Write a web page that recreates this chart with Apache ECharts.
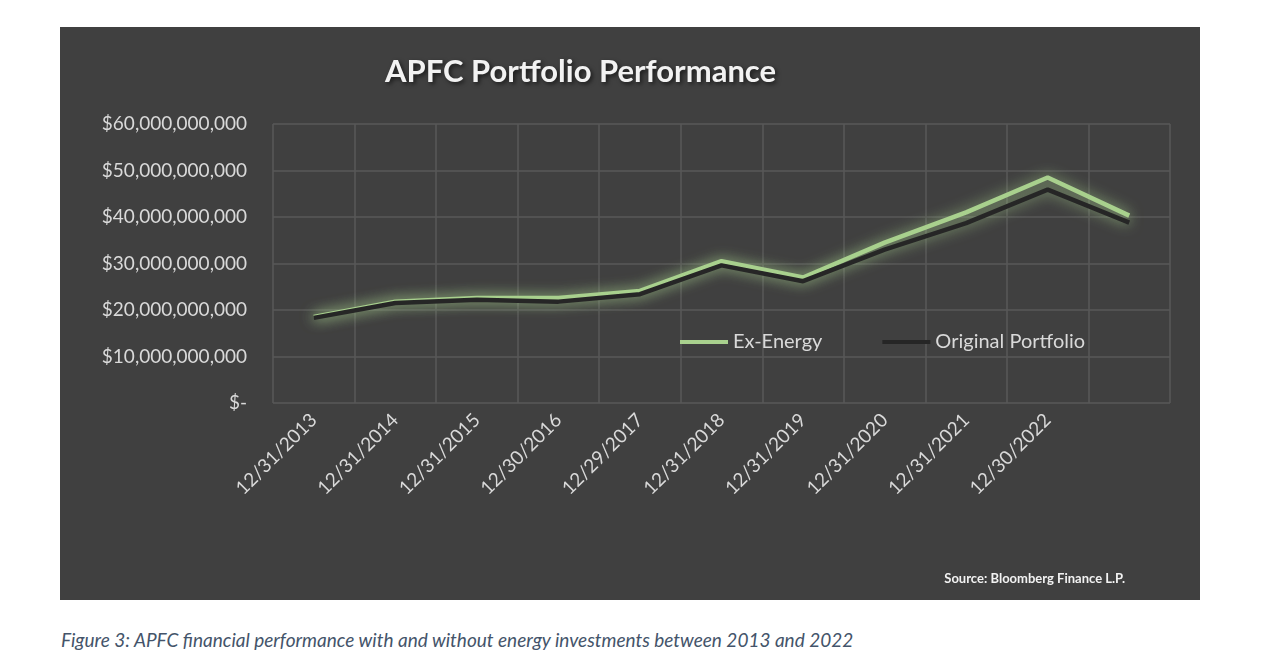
<!DOCTYPE html>
<html>
<head>
<meta charset="utf-8">
<script src="https://cdn.jsdelivr.net/npm/echarts@6/dist/echarts.min.js"></script>
<style>
  body { margin: 0; background: #fff; width: 1266px; height: 670px; position: relative; font-family: Lato, "Open Sans", sans-serif; }
  #chart { position: absolute; left: 60px; top: 27px; width: 1140px; height: 573px; }
  #caption { position: absolute; left: 61px; top: 628px; font-style: italic; font-size: 19px; color: #44546a; }
</style>
</head>
<body>
<div id="chart"></div>
<div id="caption">Figure 3: APFC financial performance with and without energy investments between 2013 and 2022</div>
<script>
// category labels (last point has no label)
const categories = ['12/31/2013', '12/31/2014', '12/31/2015', '12/30/2016', '12/29/2017',
  '12/31/2018', '12/31/2019', '12/31/2020', '12/31/2021', '12/30/2022', ''];
// values in billions of dollars
const exEnergy = [18.5, 21.8, 22.6, 22.6, 24.1, 30.5, 27.0, 34.5, 41.0, 48.5, 40.3];
const original = [18.3, 21.5, 22.2, 21.8, 23.4, 29.6, 26.2, 33.0, 38.7, 45.9, 38.8];

const chart = echarts.init(document.getElementById('chart'));

function dollars(v) {
  if (v === 0) return '$-';
  return '$' + (v * 1e9).toLocaleString('en-US');
}

const glow = {
  shadowColor: 'rgba(169,209,142,0.8)',
  shadowBlur: 14
};

chart.setOption({
  backgroundColor: '#404040',
  animation: false,
  title: {
    text: 'APFC Portfolio Performance',
    left: 320,
    top: 24,
    textStyle: {
      color: '#f2f2f2', fontSize: 31, fontWeight: 'bold', fontFamily: 'Lato',
      textShadowColor: 'rgba(0,0,0,0.6)', textShadowBlur: 4, textShadowOffsetX: 2, textShadowOffsetY: 2
    }
  },
  legend: {
    left: 615,
    top: 300,
    itemWidth: 48,
    itemGap: 60,
    icon: 'rect',
    itemHeight: 4,
    textStyle: { color: '#d9d9d9', fontSize: 20, fontFamily: 'Lato' },
    data: ['Ex-Energy', 'Original Portfolio']
  },
  grid: { left: 213, top: 97, right: 30, bottom: 197 },
  xAxis: {
    type: 'category',
    data: categories,
    boundaryGap: true,
    axisLine: { show: false },
    axisTick: { show: false },
    splitLine: { show: true, interval: 0, lineStyle: { color: '#595959', width: 1.5 } },
    axisLabel: { interval: 0, rotate: 45, color: '#d9d9d9', fontSize: 19, fontFamily: 'Lato', margin: 14 }
  },
  yAxis: {
    type: 'value',
    min: 0, max: 60, interval: 10,
    axisLine: { show: false },
    axisTick: { show: false },
    splitLine: { lineStyle: { color: '#595959', width: 1.5 } },
    axisLabel: { color: '#d9d9d9', fontSize: 19, fontFamily: 'Lato', margin: 26, formatter: dollars }
  },
  series: [
    {
      name: 'Ex-Energy', type: 'line', data: exEnergy, symbol: 'none',
      lineStyle: Object.assign({ color: '#a9d18e', width: 4.5 }, glow),
      itemStyle: { color: '#a9d18e' }
    },
    {
      name: 'Original Portfolio', type: 'line', data: original, symbol: 'none',
      lineStyle: Object.assign({ color: '#262626', width: 4.5 }, glow),
      itemStyle: { color: '#262626' }
    }
  ],
  graphic: [{
    type: 'text', right: 75, top: 545,
    style: { text: 'Source: Bloomberg Finance L.P.', fill: '#f2f2f2', font: 'bold 13px Lato', letterSpacing: 2 }
  }]
});
</script>
</body>
</html>
